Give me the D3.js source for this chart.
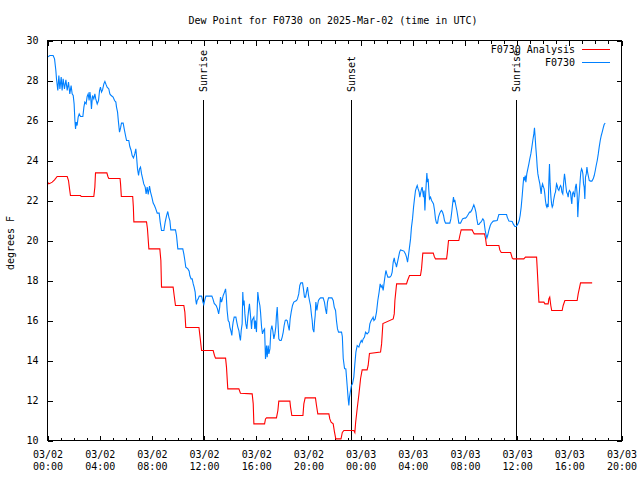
<!DOCTYPE html>
<html>
<head>
<meta charset="utf-8">
<script src="https://cdn.jsdelivr.net/npm/d3@7"></script>
<style>
  html, body { margin: 0; padding: 0; background: #fff; }
  svg text { font-family: "DejaVu Sans Mono", "Liberation Mono", monospace; font-size: 10px; fill: #000; }
</style>
</head>
<body>
<svg id="chart" width="640" height="480"></svg>
<script>
// ---------- data ----------
const chartTitle = "Dew Point for F0730 on 2025-Mar-02 (time in UTC)";
const yAxisTitle = "degrees F";
const seriesNames = ["F0730 Analysis", "F0730"];
const xTickHours = [0, 4, 8, 12, 16, 20, 24, 28, 32, 36, 40, 44];
const xTickDates = ["03/02","03/02","03/02","03/02","03/02","03/02","03/03","03/03","03/03","03/03","03/03","03/03"];
const xTickTimes = ["00:00","04:00","08:00","12:00","16:00","20:00","00:00","04:00","08:00","12:00","16:00","20:00"];
const yTicks = [10, 12, 14, 16, 18, 20, 22, 24, 26, 28, 30];
const eventHours = [11.92, 23.26, 35.93];
const eventLabels = ["Sunrise", "Sunset", "Sunrise"];

// hours since 03/02 00:00 UTC
const analysisHours = [0,0.1,0.23,0.36,0.54,0.74,1.51,1.61,1.69,1.76,2.53,2.58,3.55,3.63,3.68,4.55,4.63,4.7,5.56,5.6,5.66,6.53,6.58,6.62,7.59,7.66,7.77,8.61,8.69,8.74,9.63,9.71,9.81,10.45,10.53,10.6,11.61,11.69,11.81,12.7,12.8,12.88,13.65,13.72,13.82,14.67,14.79,15.69,15.77,15.82,16.64,16.71,16.79,17.55,17.66,17.73,18.58,18.63,18.73,19.58,19.65,19.75,20.54,20.62,20.72,21.57,21.64,21.74,21.9,22.0,22.1,22.5,22.6,22.72,23.48,23.56,23.62,23.74,23.87,24.0,24.12,24.5,24.58,24.68,25.53,25.61,25.71,26.5,26.58,26.63,26.76,27.52,27.6,27.75,28.59,28.67,28.77,29.57,29.65,29.74,30.59,30.64,30.74,31.53,31.61,31.71,32.55,32.63,32.71,33.5,33.58,33.65,34.6,34.67,34.78,35.5,35.62,35.7,36.51,36.64,37.49,37.54,37.67,38.05,38.13,38.38,38.43,38.5,38.58,38.65,39.45,39.53,39.66,40.6,40.68,40.86,41.75];
const analysisDew = [22.92,22.83,22.87,22.92,23.03,23.2,23.2,23.0,22.58,22.25,22.25,22.2,22.2,22.67,23.38,23.38,23.2,23.1,23.1,22.83,22.2,22.2,21.7,20.93,20.93,20.6,19.58,19.58,19.0,17.67,17.67,17.25,16.75,16.75,16.42,15.65,15.65,15.2,14.5,14.5,14.25,14.12,14.12,13.67,12.58,12.58,12.36,12.33,11.83,10.83,10.83,11.08,11.13,11.13,11.5,11.97,11.97,11.67,11.25,11.25,11.83,12.13,12.13,11.75,11.33,11.33,11.08,10.92,10.83,10.42,10.08,10.08,10.4,10.5,10.5,10.4,10.9,11.6,12.3,13.1,13.53,13.53,13.75,14.35,14.42,14.83,15.85,16.08,16.33,17.0,17.83,17.83,18.0,18.25,18.25,18.58,19.37,19.37,19.2,19.08,19.08,19.33,20.0,20.0,20.25,20.53,20.53,20.42,20.33,20.33,20.1,19.75,19.75,19.53,19.4,19.4,19.13,19.08,19.08,19.17,19.17,18.58,16.92,16.92,16.83,16.83,17.08,17.17,16.75,16.5,16.5,16.75,17.0,17.0,17.33,17.88,17.88];

const obsHours = [0,0.18,0.43,0.54,0.64,0.69,0.79,0.87,0.95,1.05,1.12,1.2,1.3,1.41,1.51,1.61,1.71,1.81,1.89,1.97,2.04,2.1,2.15,2.2,2.27,2.35,2.43,2.53,2.71,2.79,2.86,2.96,3.04,3.12,3.19,3.25,3.32,3.37,3.45,3.55,3.63,3.7,3.81,3.91,3.99,4.06,4.14,4.22,4.32,4.4,4.5,4.57,4.7,4.78,4.88,5.03,5.14,5.24,5.29,5.37,5.44,5.52,5.6,5.67,5.8,5.88,5.98,6.06,6.23,6.31,6.41,6.49,6.59,6.69,6.77,6.82,6.9,6.98,7.05,7.13,7.21,7.28,7.38,7.49,7.56,7.64,7.72,7.82,7.9,8.0,8.1,8.2,8.3,8.41,8.56,8.64,8.74,8.92,9.02,9.12,9.22,9.3,9.38,9.45,9.81,9.89,9.94,9.99,10.37,10.45,10.53,10.6,10.76,10.86,10.91,11.01,11.09,11.17,11.24,11.32,11.37,11.42,11.47,11.55,11.63,11.81,11.86,11.91,11.98,12.06,12.14,12.6,12.68,12.78,12.93,13.03,13.12,13.2,13.26,13.34,13.41,13.47,13.57,13.65,13.7,13.77,13.85,13.93,13.98,14.05,14.13,14.18,14.23,14.31,14.44,14.51,14.59,14.67,14.74,14.79,14.85,14.92,14.97,15.02,15.07,15.13,15.2,15.28,15.36,15.43,15.48,15.56,15.64,15.69,15.74,15.82,15.89,15.94,16.02,16.12,16.2,16.28,16.33,16.41,16.48,16.56,16.64,16.71,16.79,16.84,16.92,16.97,17.05,17.12,17.2,17.27,17.35,17.43,17.5,17.55,17.61,17.66,17.73,17.81,17.91,17.99,18.07,18.14,18.22,18.29,18.37,18.45,18.53,18.6,18.68,18.78,18.88,19.09,19.16,19.26,19.34,19.42,19.55,19.62,19.7,19.78,19.85,19.93,20.01,20.08,20.16,20.24,20.29,20.34,20.42,20.47,20.52,20.57,20.65,20.7,20.77,20.85,20.93,21.13,21.23,21.31,21.39,21.46,21.54,21.8,21.9,21.98,22.08,22.15,22.23,22.31,22.54,22.6,22.67,22.77,22.87,22.97,23.05,23.1,23.15,23.23,23.3,23.38,23.48,23.56,23.64,23.74,23.87,23.94,24.05,24.12,24.2,24.3,24.38,24.5,24.63,24.71,24.81,24.89,24.96,25.02,25.12,25.22,25.32,25.42,25.5,25.58,25.65,25.73,25.81,25.88,25.94,26.01,26.09,26.24,26.35,26.42,26.5,26.58,26.63,26.7,26.75,26.83,26.91,26.99,27.06,27.19,27.32,27.44,27.52,27.6,27.67,27.75,27.83,27.9,27.98,28.06,28.13,28.21,28.29,28.34,28.41,28.49,28.54,28.59,28.67,28.72,28.77,28.82,28.87,28.93,28.98,29.03,29.08,29.13,29.18,29.23,29.28,29.36,29.44,29.51,29.59,29.67,29.74,29.82,29.9,29.97,30.05,30.13,30.2,30.28,30.36,30.43,30.51,30.84,30.92,31.0,31.07,31.12,31.17,31.22,31.3,31.38,31.46,31.53,31.66,31.74,31.81,31.97,32.04,32.12,32.2,32.27,32.35,32.43,32.53,32.61,32.68,32.76,32.84,32.91,32.99,33.07,33.14,33.22,33.3,33.37,33.45,33.55,33.63,33.68,33.76,33.83,33.94,34.01,34.17,34.47,34.6,35.19,35.24,35.37,35.62,35.7,35.83,35.93,36.06,36.16,36.23,36.31,36.39,36.46,36.51,36.57,36.62,36.67,36.74,36.82,36.9,36.97,37.05,37.13,37.2,37.28,37.33,37.38,37.43,37.49,37.54,37.59,37.66,37.74,37.79,37.84,37.89,37.95,38.02,38.07,38.12,38.17,38.23,38.28,38.33,38.38,38.43,38.48,38.53,38.59,38.64,38.69,38.74,38.79,38.84,38.89,38.94,39.02,39.07,39.12,39.2,39.27,39.33,39.38,39.43,39.5,39.58,39.63,39.68,39.73,39.79,39.86,39.91,39.96,40.01,40.09,40.14,40.19,40.24,40.3,40.35,40.4,40.47,40.53,40.6,40.65,40.7,40.76,40.83,40.88,40.94,40.99,41.04,41.09,41.14,41.19,41.24,41.3,41.35,41.4,41.45,41.53,41.63,41.73,41.83,41.91,41.99,42.06,42.14,42.22,42.29,42.37,42.45,42.52,42.6,42.67,42.75];
const obsDew = [29.17,29.25,29.25,29.08,28.5,28.08,27.5,28.25,27.58,28.17,27.5,28.08,27.58,28.03,27.5,27.92,27.33,27.75,27.33,27.25,26.83,26.0,25.58,25.92,25.75,26.17,26.33,26.2,26.2,26.67,26.92,26.83,27.2,27.33,27.0,27.42,27.08,26.58,27.25,27.08,27.33,27.08,26.83,27.0,27.5,27.67,27.42,27.53,27.83,27.95,27.78,27.67,27.58,27.33,27.25,27.17,27.0,26.92,26.67,26.42,25.92,25.42,25.63,25.87,25.87,25.58,25.25,25.0,25.0,24.7,24.5,24.25,24.13,24.33,24.58,24.25,23.58,23.25,23.58,23.67,23.33,23.13,22.83,22.67,22.33,22.67,22.3,22.72,22.42,22.17,21.87,21.75,21.58,21.37,21.37,20.92,20.5,20.5,20.92,21.22,21.45,21.17,21.0,20.53,20.53,20.25,19.92,19.58,19.58,19.33,19.0,18.67,18.58,18.47,18.25,18.08,18.08,17.83,17.67,17.42,17.0,16.8,17.0,17.08,17.22,17.22,17.08,16.92,16.8,17.03,17.22,17.22,17.08,16.85,16.75,16.58,16.33,16.67,17.17,16.92,17.08,17.25,17.42,17.58,17.25,16.5,16.0,15.92,15.67,15.5,15.25,15.67,15.92,16.17,16.17,15.92,15.67,15.5,15.17,15.0,15.5,15.83,17.42,16.75,17.0,16.33,15.83,15.58,16.17,16.58,16.83,16.25,15.58,16.0,16.08,16.17,15.58,16.0,15.42,17.42,17.0,16.75,16.42,15.67,15.33,15.5,15.58,14.08,14.75,14.17,14.75,14.33,14.58,15.5,15.75,15.5,15.08,15.33,15.67,16.25,16.67,16.0,15.08,15.0,15.0,15.17,15.42,15.75,16.0,16.03,16.0,15.75,15.5,16.08,16.42,16.75,16.92,17.0,17.08,17.33,17.75,17.88,17.88,17.58,17.17,17.17,17.42,17.67,17.25,17.0,16.75,16.25,16.0,15.58,15.42,15.92,16.25,16.92,16.5,16.75,17.0,17.08,17.13,17.13,16.92,16.58,16.33,16.92,17.13,17.13,17.0,16.67,16.5,16.0,15.58,15.42,15.42,15.2,14.1,13.6,13.58,12.75,12.08,11.75,12.17,12.5,12.75,12.83,13.17,13.83,14.42,14.75,14.67,14.83,15.0,14.92,15.08,15.17,15.42,15.33,15.42,15.83,16.0,16.08,16.17,16.0,16.08,16.42,17.0,17.42,17.83,17.67,17.75,17.5,17.92,18.25,18.5,18.33,18.17,18.17,18.25,18.42,18.92,19.13,18.92,18.83,18.67,18.92,19.17,19.42,19.53,19.5,19.47,19.33,19.17,18.92,19.25,19.67,20.08,20.67,21.08,21.67,22.08,22.5,22.67,22.75,22.58,22.42,22.17,22.33,22.58,22.67,22.42,22.17,22.5,21.5,22.25,22.83,23.37,22.92,23.08,22.5,22.08,22.17,22.0,21.92,21.83,21.5,21.08,20.87,20.87,21.17,21.33,21.45,21.5,21.42,21.25,21.0,20.87,20.87,21.08,21.5,21.92,22.17,21.92,22.03,21.75,21.5,21.17,20.87,20.87,20.97,21.08,21.12,21.12,21.17,21.25,21.33,21.42,21.42,21.53,21.67,21.78,21.63,21.42,21.08,20.8,20.8,20.87,20.92,21.0,21.08,21.0,20.5,20.25,20.13,20.3,20.5,20.75,20.85,20.97,21.0,21.3,21.3,21.17,20.97,20.95,20.83,20.7,20.7,20.83,21.0,21.25,21.67,22.25,22.83,23.17,23.0,23.25,22.92,23.33,23.58,23.83,24.08,24.33,24.67,25.0,25.33,25.63,25.17,24.67,24.17,23.67,23.33,23.08,22.83,22.58,22.33,22.67,22.83,22.67,22.58,22.33,22.0,21.75,21.67,21.83,21.67,22.92,23.83,22.83,22.17,21.83,21.67,21.75,22.0,22.17,22.33,22.42,22.83,22.75,22.58,22.5,22.67,22.75,22.67,22.42,22.33,23.0,23.33,23.08,22.75,22.42,22.33,22.17,22.42,22.5,22.42,22.08,21.83,22.33,22.42,22.33,22.17,22.67,22.83,22.33,21.17,21.83,22.33,23.0,23.42,23.58,23.5,23.33,22.83,22.67,22.08,23.17,23.33,23.67,23.42,23.25,23.0,22.97,22.97,23.08,23.25,23.5,23.75,24.0,24.33,24.67,25.0,25.25,25.42,25.63,25.8,25.87];

// ---------- chart ----------
const svg = d3.select("#chart");
const pLeft = 47.5, pRight = 621.5, pTop = 40.5, pBottom = 440.5;
const x = d3.scaleLinear().domain([0, 44]).range([pLeft, pRight]);
const y = d3.scaleLinear().domain([10, 30]).range([pBottom, pTop]);
const red = "#ff0000", blue = "#0080ff";

// title
svg.append("text").attr("x", 333).attr("y", 24).attr("text-anchor", "middle").text(chartTitle);
// y axis title
svg.append("text").attr("transform", "translate(14,243) rotate(-90)").attr("text-anchor", "middle").text(yAxisTitle);

const minorHours = d3.range(0, 45, 1).filter(h => h % 4 !== 0);

function clean(g) {
  g.attr("font-size", null).attr("font-family", null);
  g.select(".domain").remove();
  g.selectAll("line").attr("stroke", "#000").attr("shape-rendering", "crispEdges");
}

// bottom major with labels
const gxb = svg.append("g").attr("transform", `translate(0,${pBottom})`)
  .call(d3.axisBottom(x).tickValues(xTickHours).tickSizeInner(-5).tickSizeOuter(0).tickFormat(""));
clean(gxb);
gxb.selectAll(".tick text").each(function(d, i) {
  const t = d3.select(this);
  t.attr("dy", null).attr("y", 17).attr("fill", "#000");
  t.append("tspan").attr("x", 0).text(xTickDates[i]);
  t.append("tspan").attr("x", 0).attr("dy", 12.3).text(xTickTimes[i]);
});
const gxbm = svg.append("g").attr("transform", `translate(0,${pBottom})`)
  .call(d3.axisBottom(x).tickValues(minorHours).tickSizeInner(-3).tickSizeOuter(0).tickFormat(""));
clean(gxbm);
// top mirrored
const gxt = svg.append("g").attr("transform", `translate(0,${pTop})`)
  .call(d3.axisTop(x).tickValues(xTickHours).tickSizeInner(-5).tickSizeOuter(0).tickFormat(""));
clean(gxt);
const gxtm = svg.append("g").attr("transform", `translate(0,${pTop})`)
  .call(d3.axisTop(x).tickValues(minorHours).tickSizeInner(-3).tickSizeOuter(0).tickFormat(""));
clean(gxtm);
// y left
const gyl = svg.append("g").attr("transform", `translate(${pLeft},0)`)
  .call(d3.axisLeft(y).tickValues(yTicks).tickSizeInner(-5).tickSizeOuter(0).tickPadding(9).tickFormat(d3.format("d")));
clean(gyl);
gyl.selectAll(".tick text").attr("fill", "#000");
// y right
const gyr = svg.append("g").attr("transform", `translate(${pRight},0)`)
  .call(d3.axisRight(y).tickValues(yTicks).tickSizeInner(-5).tickSizeOuter(0).tickFormat(""));
clean(gyr);

// sunrise/sunset markers
eventHours.forEach((h, i) => {
  const xp = Math.round(x(h)) + 0.5;
  svg.append("line").attr("x1", xp).attr("x2", xp).attr("y1", 100).attr("y2", pBottom)
    .attr("stroke", "#000").attr("stroke-width", 1).attr("shape-rendering", "crispEdges");
  svg.append("text").attr("transform", `translate(${xp + 3.6},92) rotate(-90)`).attr("text-anchor", "start").text(eventLabels[i]);
});

// lines
const line = d3.line().x(d => x(d[0])).y(d => y(d[1]));
svg.append("path").datum(d3.zip(analysisHours, analysisDew))
  .attr("d", line).attr("fill", "none").attr("stroke", red).attr("stroke-width", 1.1);
svg.append("path").datum(d3.zip(obsHours, obsDew))
  .attr("d", line).attr("fill", "none").attr("stroke", blue).attr("stroke-width", 1.1);

// border
svg.append("rect").attr("x", pLeft).attr("y", pTop).attr("width", pRight - pLeft).attr("height", pBottom - pTop)
  .attr("fill", "none").attr("stroke", "#000").attr("shape-rendering", "crispEdges");

// legend
const legendColors = [red, blue];
const legendY = [49.5, 62.5];
seriesNames.forEach((name, i) => {
  svg.append("text").attr("x", 575).attr("y", legendY[i] + 3.6).attr("text-anchor", "end").text(name);
  svg.append("line").attr("x1", 582).attr("x2", 610).attr("y1", legendY[i]).attr("y2", legendY[i])
    .attr("stroke", legendColors[i]).attr("stroke-width", 1.1).attr("shape-rendering", "crispEdges");
});

if (analysisHours.length !== analysisDew.length || obsHours.length !== obsDew.length) {
  setTimeout(() => { throw new Error(`length mismatch: ${analysisHours.length}/${analysisDew.length} ${obsHours.length}/${obsDew.length}`); }, 0);
}
</script>
</body>
</html>
